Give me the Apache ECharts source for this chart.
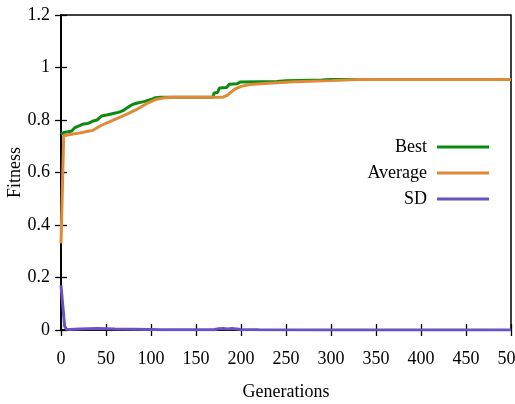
<!DOCTYPE html>
<html><head><meta charset="utf-8">
<script src="https://cdn.jsdelivr.net/npm/echarts@6/dist/echarts.min.js"></script>
<style>html,body{margin:0;padding:0;background:#fff}#c{width:515px;height:404px}</style>
</head><body><div id="c"></div>
<script>
var bestGen = [0,3,8,12,15,20,25,30,35,40,45,52,58,65,70,75,80,85,92,100,105,110,169,170,174,176,184,187,196,199,240,250,290,300,500];
var bestVal = [0.745,0.752,0.755,0.758,0.770,0.778,0.785,0.787,0.795,0.800,0.815,0.820,0.825,0.830,0.838,0.850,0.860,0.865,0.870,0.878,0.885,0.887,0.887,0.903,0.905,0.922,0.924,0.936,0.938,0.945,0.947,0.950,0.952,0.954,0.954];
var avgGen = [0,3,10,20,30,35,45,55,65,75,85,95,105,115,125,180,185,193,200,210,230,260,300,330,500];
var avgVal = [0.33,0.74,0.745,0.750,0.757,0.760,0.780,0.795,0.810,0.825,0.842,0.862,0.878,0.885,0.887,0.887,0.895,0.918,0.928,0.935,0.940,0.946,0.950,0.954,0.954];
var sdGen = [0,4,6,10,20,40,50,60,80,100,110,170,175,180,185,190,195,200,220,300,500];
var sdVal = [0.17,0.015,0.003,0.002,0.004,0.006,0.005,0.004,0.003,0.002,0.001,0.001,0.005,0.006,0.004,0.006,0.004,0.002,0.001,0.0,0.0];
var xTicks = {min:0, max:500, interval:50};
var yTicks = {min:0, max:1.2, interval:0.2};

function pairs(g, v){ return g.map(function(x,i){return [x, v[i]];}); }
var font = '"Liberation Serif", "DejaVu Serif", serif';
var chart = echarts.init(document.getElementById('c'), null, {renderer:'canvas'});
var tickStyle = {show:true, inside:true, length:6, lineStyle:{color:'#000', width:1.3}};
chart.setOption({
  animation:false,
  backgroundColor:'#fff',
  textStyle:{fontFamily:font},
  grid:{left:61, right:4, top:15, bottom:74, show:true, borderColor:'#000', borderWidth:1.5,
        containLabel:false, outerBoundsMode:'none'},
  legend:{
    orient:'vertical', right:21, top:133, align:'right', itemGap:8,
    itemWidth:52, itemHeight:3, icon:'rect',
    textStyle:{fontFamily:font, fontSize:18, color:'#000', padding:[0,5,0,0]},
    data:['Best','Average','SD']
  },
  xAxis:[{
    type:'value', min:xTicks.min, max:xTicks.max, interval:xTicks.interval,
    name:'Generations', nameLocation:'middle', nameGap:53, nameMoveOverlap:false,
    nameTextStyle:{fontFamily:font, fontSize:18, color:'#000'},
    axisLine:{show:true, lineStyle:{color:'#000', width:1.5}},
    axisTick:tickStyle, splitLine:{show:false},
    axisLabel:{fontFamily:font, fontSize:18, color:'#000', margin:20, hideOverlap:false}
  },{
    type:'value', position:'top', min:xTicks.min, max:xTicks.max, interval:xTicks.interval,
    axisLine:{show:true, lineStyle:{color:'#000', width:1.5}},
    axisTick:tickStyle, splitLine:{show:false}, axisLabel:{show:false}
  }],
  yAxis:[{
    type:'value', min:yTicks.min, max:yTicks.max, interval:yTicks.interval,
    name:'Fitness', nameLocation:'middle', nameGap:37, nameRotate:90, nameMoveOverlap:false,
    nameTextStyle:{fontFamily:font, fontSize:18, color:'#000'},
    axisLine:{show:true, lineStyle:{color:'#000', width:1.5}},
    axisTick:tickStyle, splitLine:{show:false},
    axisLabel:{fontFamily:font, fontSize:18, color:'#000', margin:11}
  },{
    type:'value', position:'right', min:yTicks.min, max:yTicks.max, interval:yTicks.interval,
    axisLine:{show:true, lineStyle:{color:'#000', width:1.5}},
    axisTick:tickStyle, splitLine:{show:false}, axisLabel:{show:false}
  }],
  series:[
    {name:'Best', type:'line', data:pairs(bestGen,bestVal), showSymbol:false, symbol:'none',
     lineStyle:{color:'#0b8c10', width:3}, itemStyle:{color:'#0b8c10'}},
    {name:'Average', type:'line', data:pairs(avgGen,avgVal), showSymbol:false, symbol:'none',
     lineStyle:{color:'#e08a38', width:3}, itemStyle:{color:'#e08a38'}},
    {name:'SD', type:'line', data:pairs(sdGen,sdVal), showSymbol:false, symbol:'none',
     lineStyle:{color:'#6a52c4', width:3}, itemStyle:{color:'#6a52c4'}}
  ]
});
</script></body></html>
